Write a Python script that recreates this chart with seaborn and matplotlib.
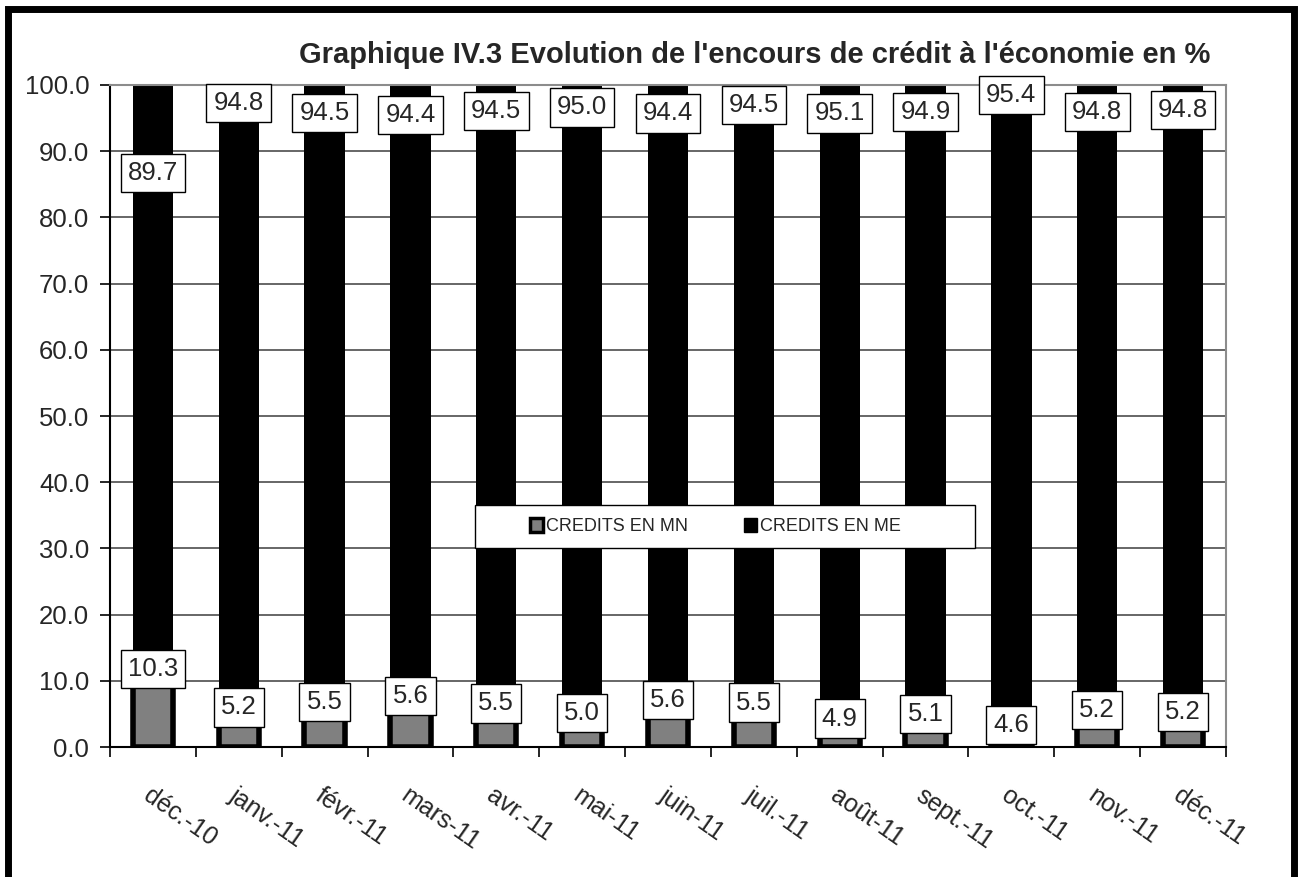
"""
Graphique IV.3 - Evolution de l'encours de crédit à l'économie en %
Stacked 100% bars: credits in national currency (MN) vs foreign currency (ME).
"""

import pandas as pd
import matplotlib.pyplot as plt
import matplotlib.patches as mpatches
import seaborn as sns

# ── Data ──────────────────────────────────────────────────────────────────────
MONTHS = ["déc.-10", "janv.-11", "févr.-11", "mars-11", "avr.-11", "mai-11",
          "juin-11", "juil.-11", "août-11", "sept.-11", "oct.-11", "nov.-11",
          "déc.-11"]
CREDITS_MN = [10.3, 5.2, 5.5, 5.6, 5.5, 5.0, 5.6, 5.5, 4.9, 5.1, 4.6, 5.2, 5.2]
CREDITS_ME = [89.7, 94.8, 94.5, 94.4, 94.5, 95.0, 94.4, 94.5, 95.1, 94.9, 95.4,
              94.8, 94.8]

# label placement (data units), as dragged in the original workbook
LABEL_Y_MN = [11.8, 6.0, 6.8, 7.7, 6.6, 5.1, 7.1, 6.7, 4.3, 5.0, 3.3, 5.6, 5.3]
LABEL_Y_ME = [86.7, 97.3, 95.8, 95.5, 96.1, 96.6, 95.7, 97.0, 95.7, 95.9, 98.5,
              95.9, 96.2]

df = pd.DataFrame({"mois": MONTHS, "mn": CREDITS_MN, "me": CREDITS_ME})
df["total"] = df["mn"] + df["me"]

# ── Style ─────────────────────────────────────────────────────────────────────
sns.set_theme(style="white")
plt.rcParams["font.family"] = ["Liberation Sans", "DejaVu Sans"]

fig = plt.figure(figsize=(13.02, 8.77), dpi=100)
ax = fig.add_axes([0.0845, 0.1482, 0.8571, 0.7549])

BAR_W = 0.47

# ME stacked on MN: draw full height black, then MN in front
sns.barplot(data=df, x="mois", y="total", order=MONTHS, color="black",
            saturation=1, width=BAR_W, edgecolor="black", linewidth=0,
            ax=ax, zorder=2)
sns.barplot(data=df, x="mois", y="mn", order=MONTHS, color="#808080",
            saturation=1, width=BAR_W, edgecolor="black", linewidth=4,
            ax=ax, zorder=3)

# ── Value labels ──────────────────────────────────────────────────────────────
box = dict(boxstyle="square,pad=0.28", facecolor="white", edgecolor="black",
           linewidth=1)
for i in range(len(MONTHS)):
    ax.text(i, LABEL_Y_MN[i], f"{CREDITS_MN[i]:.1f}", ha="center", va="center",
            fontsize=18.5, bbox=box, zorder=5)
    ax.text(i, LABEL_Y_ME[i], f"{CREDITS_ME[i]:.1f}", ha="center", va="center",
            fontsize=18.5, bbox=box, zorder=5)

# ── Axes ──────────────────────────────────────────────────────────────────────
ax.set_xlim(-0.5, len(MONTHS) - 0.5)
ax.set_ylim(0, 100)
ax.set_yticks(range(0, 101, 10))
ax.set_yticklabels([f"{v:.1f}" for v in range(0, 101, 10)], fontsize=18.5)
ax.yaxis.grid(True, color="#5a5a5a", linewidth=1.3, zorder=0)
ax.set_axisbelow(True)

ax.set_xticks(range(len(MONTHS)))
ax.set_xticklabels(MONTHS, fontsize=18, rotation=-35, ha="left",
                   rotation_mode="anchor")
ax.tick_params(axis="x", length=0, pad=26)
ax.set_xticks([k - 0.5 for k in range(len(MONTHS) + 1)], minor=True)
ax.tick_params(axis="x", which="minor", length=7, width=1.2, color="black",
               direction="out", bottom=True)
ax.tick_params(axis="y", length=7, width=1.2, color="black", direction="out",
               left=True, pad=8)

ax.set_xlabel("")
ax.set_ylabel("")

ax.spines["left"].set_color("black")
ax.spines["left"].set_linewidth(1.5)
ax.spines["bottom"].set_color("black")
ax.spines["bottom"].set_linewidth(1.5)
ax.spines["top"].set_color("#8c8c8c")
ax.spines["top"].set_linewidth(1.5)
ax.spines["right"].set_color("#8c8c8c")
ax.spines["right"].set_linewidth(1.5)

# ── Legend ────────────────────────────────────────────────────────────────────
handles = [
    mpatches.Patch(facecolor="#808080", edgecolor="black", linewidth=2.5,
                   label="CREDITS EN MN"),
    mpatches.Patch(facecolor="black", edgecolor="black", label="CREDITS EN ME"),
]
ax.add_patch(mpatches.Rectangle((0.327, 0.30), 0.448, 0.065,
                                transform=ax.transAxes, facecolor="white",
                                edgecolor="black", linewidth=1, zorder=6))
leg = ax.legend(handles=handles, ncol=2, loc="center left",
                bbox_to_anchor=(0.376, 0.3325), fontsize=13, frameon=False,
                handlelength=0.75, handleheight=0.75, handletextpad=0.15,
                columnspacing=3.1, borderpad=0, borderaxespad=0)
leg.set_zorder(7)

# ── Title and outer frame ─────────────────────────────────────────────────────
fig.text(0.58, 0.937, "Graphique IV.3 Evolution de l'encours de crédit à "
         "l'économie en %", ha="center", va="center", fontsize=21,
         fontweight="bold")

fig.patches.append(mpatches.Rectangle(
    (0.0065, -0.05), 0.9877, 1.04, transform=fig.transFigure, fill=False,
    edgecolor="black", linewidth=5, zorder=10))

plt.savefig("out.png", dpi=100)
plt.close()
